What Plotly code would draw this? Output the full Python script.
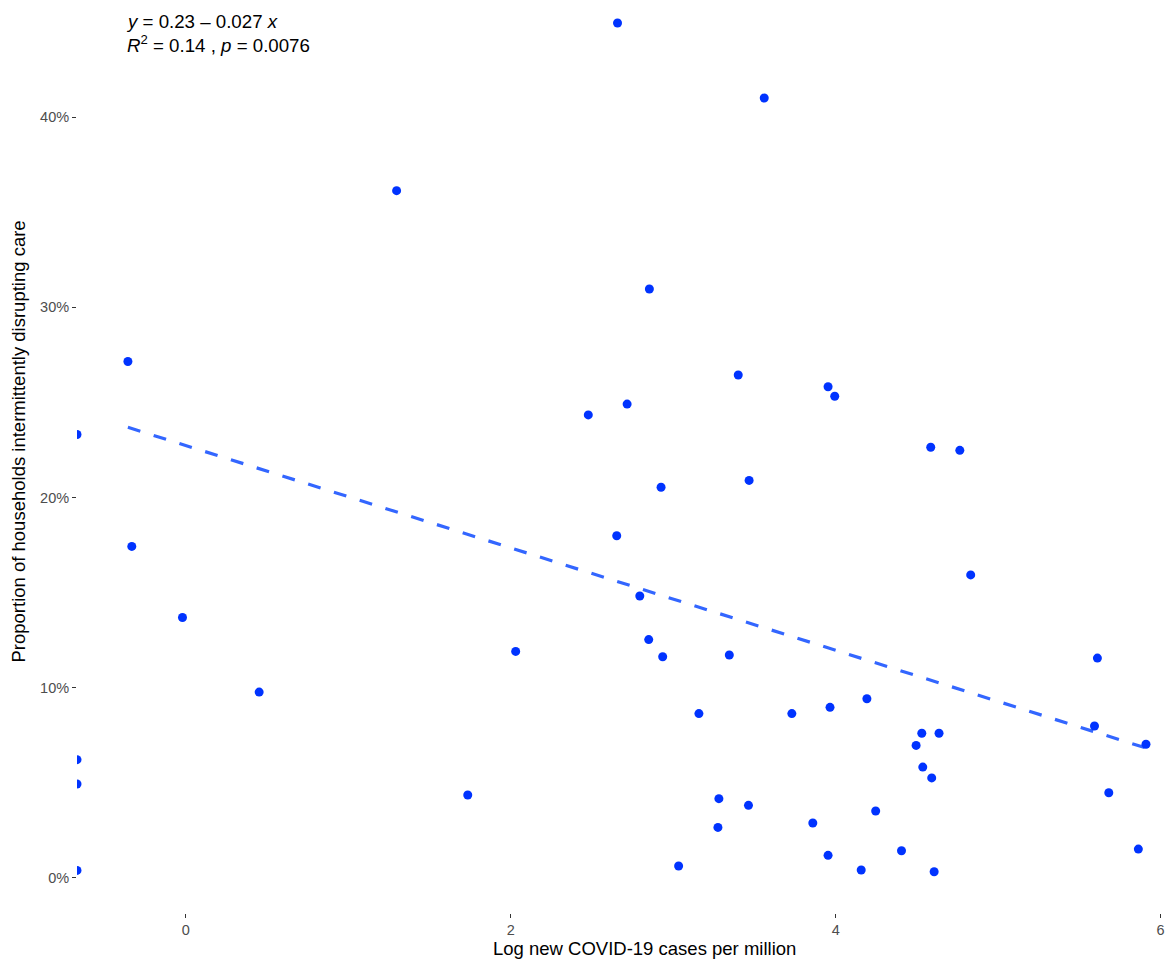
import numpy as np
import plotly.graph_objects as go

# Log new COVID-19 cases per million (-inf = zero cases, drawn at the panel edge)
log_cases = [
    -0.357, -0.333, -0.021, 0.451, 1.297, 1.735, 2.030, 2.477, 2.657, 2.652,
    2.716, 2.794, 2.849, 2.853, 2.925, 2.935, 3.033, 3.158, 3.275, 3.281,
    3.345, 3.400, 3.463, 3.467, 3.560, 3.730, 3.859, 3.953, 3.965, 3.953,
    3.994, 4.157, 4.192, 4.246, 4.405, 4.495, 4.530, 4.536, 4.585, 4.591,
    4.606, 4.636, 4.764, 4.831, 5.593, 5.611, 5.681, 5.863, 5.910,
    float("-inf"), float("-inf"), float("-inf"), float("-inf"),
]
# Proportion of households intermittently disrupting care
prop_disrupt = [
    0.2715, 0.1743, 0.1369, 0.0977, 0.3613, 0.0436, 0.1191, 0.2434, 0.4494, 0.1799,
    0.2491, 0.1482, 0.1253, 0.3096, 0.2054, 0.1163, 0.0063, 0.0864, 0.0266, 0.0417,
    0.1172, 0.2644, 0.0382, 0.2090, 0.4100, 0.0864, 0.0289, 0.2582, 0.0897, 0.0119,
    0.2532, 0.0042, 0.0942, 0.0352, 0.0143, 0.0697, 0.0761, 0.0583, 0.2264, 0.0526,
    0.0033, 0.0761, 0.2248, 0.1593, 0.0799, 0.1156, 0.0448, 0.0152, 0.0703,
    0.2331, 0.0622, 0.0494, 0.0040,
]
# Regression line (label rounds to 0.23 - 0.027 x)
reg_intercept = 0.2273
reg_slope = -0.0269
y_ticks = [0, 0.1, 0.2, 0.3, 0.4]
x_ticks = [0, 2, 4, 6]
eq_line1 = "<i>y</i> = 0.23 \u2013 0.027 <i>x</i>"
eq_line2 = "<i>R</i><sup>2</sup> = 0.14 , <i>p</i> = 0.0076"
x_title = "Log new COVID-19 cases per million"
y_title = "Proportion of households intermittently disrupting care"

x = np.array(log_cases, dtype=float)
y = np.array(prop_disrupt, dtype=float)
finite = np.isfinite(x)
xmin_f, xmax_f = x[finite].min(), x[finite].max()
x_lo = xmin_f - 0.05 * (xmax_f - xmin_f)
x_hi = x_lo + 1095 / 162.6
x_plot = np.where(finite, x, x_lo)

xl = np.array([xmin_f, xmax_f])
yl = reg_intercept + reg_slope * xl

fig = go.Figure()
fig.add_trace(go.Scatter(
    x=xl, y=yl, mode="lines",
    line=dict(color="#3366FF", width=3.2, dash="13px,14px"),
    hoverinfo="skip", showlegend=False,
))
fig.add_trace(go.Scatter(
    x=x_plot, y=y, mode="markers",
    marker=dict(color="#0033FF", size=9, line=dict(width=0)),
    showlegend=False, cliponaxis=True,
))

font_family = "Liberation Sans, Arial, sans-serif"
fig.add_annotation(x=xmin_f, y=1.0, xref="x", yref="paper", yshift=-21, xshift=-4,
                   text=eq_line1, showarrow=False, xanchor="left", yanchor="middle",
                   font=dict(size=18.7, color="black", family=font_family))
fig.add_annotation(x=xmin_f, y=1.0, xref="x", yref="paper", yshift=-44, xshift=-3,
                   text=eq_line2, showarrow=False, xanchor="left", yanchor="middle",
                   font=dict(size=18.7, color="black", family=font_family))
# axis titles
fig.add_annotation(x=0.519, y=0, xref="paper", yref="paper", yshift=-35,
                   text=x_title, showarrow=False, xanchor="center", yanchor="middle",
                   font=dict(size=18.5, color="black", family=font_family))
fig.add_annotation(x=0, y=0.5164, xref="paper", yref="paper", xshift=-58,
                   text=y_title, showarrow=False, xanchor="center", yanchor="middle",
                   textangle=-90,
                   font=dict(size=18.5, color="black", family=font_family))

fig.update_layout(
    width=1171, height=961,
    margin=dict(l=77, r=0, t=0, b=48),
    paper_bgcolor="white", plot_bgcolor="white",
    font=dict(family=font_family),
    xaxis=dict(
        range=[x_lo, x_hi], tickvals=x_ticks, ticktext=[str(t) for t in x_ticks],
        showgrid=False, zeroline=False, showline=False,
        ticks="outside", ticklen=4, tickwidth=1, tickcolor="#333333",
        tickfont=dict(size=14.5, color="#4D4D4D"),
        automargin=False,
    ),
    yaxis=dict(
        range=[-0.0184, 0.4615], tickvals=y_ticks, tickformat=".0%",
        showgrid=False, zeroline=False, showline=False,
        ticks="outside", ticklen=4, tickwidth=1, tickcolor="#333333",
        tickfont=dict(size=14.5, color="#4D4D4D"),
        automargin=False,
    ),
)

fig.write_html(
    "out.html",
    config={"displayModeBar": False},
    post_script="document.body.style.margin='0';document.body.style.padding='0';"
                "document.body.style.overflow='hidden';",
)
